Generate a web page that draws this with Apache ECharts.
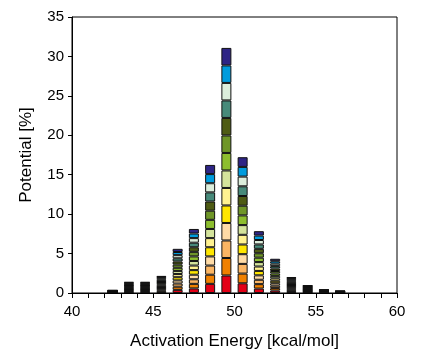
<!DOCTYPE html>
<html>
<head>
<meta charset="utf-8">
<script src="https://cdn.jsdelivr.net/npm/echarts@6/dist/echarts.min.js"></script>
<style>
  html, body { margin: 0; padding: 0; background: #fff; }
  #chart { width: 421px; height: 349px; }
</style>
</head>
<body>
<div id="chart"></div>
<script>
// 1 kcal/mol bins from 40 to 60, labelled by their centre
const bins = ['40.5', '41.5', '42.5', '43.5', '44.5', '45.5', '46.5', '47.5', '48.5', '49.5',
              '50.5', '51.5', '52.5', '53.5', '54.5', '55.5', '56.5', '57.5', '58.5', '59.5'];
// height of one coloured slice in each bin (%); every bar has 14 slices of about the same height
const sliceHeight = [0, 0, 0.025, 0.1, 0.1, 0.155, 0.4, 0.58, 1.16, 2.22,
                     1.23, 0.56, 0.31, 0.145, 0.07, 0.03, 0.018, 0, 0, 0];
// slice colours, bottom to top
const sliceColors = [
  '#e30016', '#f08000', '#fbb563', '#ffdba6', '#ffe600', '#fff290', '#d4e39b',
  '#8dbe2e', '#6f9628', '#4e5b14', '#478a7a', '#dceedc', '#009cdd', '#2e2585'
];

const chart = echarts.init(document.getElementById('chart'));
const font = '"Liberation Sans", Arial, sans-serif';

const series = sliceColors.map((c) => ({
  type: 'bar',
  stack: 'pot',
  xAxisIndex: 1,
  barWidth: 10,
  data: sliceHeight.map(v => (v > 0 ? v : null)),
  itemStyle: { color: c, borderColor: '#111', borderWidth: 1 },
  silent: true,
}));

chart.setOption({
  animation: false,
  grid: {
    left: 72, right: 24, top: 17, bottom: 56,
    containLabel: false,
    outerBoundsMode: 'none',
    show: true, borderColor: '#000', borderWidth: 1, backgroundColor: 'transparent',
  },
  xAxis: [
    {
      type: 'value',
      min: 40, max: 60, interval: 5,
      name: 'Activation Energy [kcal/mol]',
      nameLocation: 'middle',
      nameGap: 40,
      nameTextStyle: { fontFamily: font, fontSize: 17, color: '#000' },
      axisLine: { show: true, lineStyle: { color: '#000', width: 1 } },
      axisTick: { show: true, length: 5, lineStyle: { color: '#000' } },
      minorTick: { show: true, splitNumber: 5, length: 5, lineStyle: { color: '#000' } },
      axisLabel: { fontFamily: font, fontSize: 15, color: '#000', margin: 11 },
      splitLine: { show: false },
      minorSplitLine: { show: false },
      z: 5,
    },
    {
      type: 'category',
      data: bins,
      position: 'bottom',
      show: false,
    },
  ],
  yAxis: {
    type: 'value',
    min: 0, max: 35, interval: 5,
    name: 'Potential [%]',
    nameLocation: 'middle',
    nameGap: 37,
    nameTextStyle: { fontFamily: font, fontSize: 17, color: '#000' },
    axisLine: { show: true, lineStyle: { color: '#000', width: 1 } },
    axisTick: { show: true, length: 4, lineStyle: { color: '#000' } },
    axisLabel: { fontFamily: font, fontSize: 15, color: '#000', margin: 8 },
    splitLine: { show: false },
  },
  series: series,
});
</script>
</body>
</html>
